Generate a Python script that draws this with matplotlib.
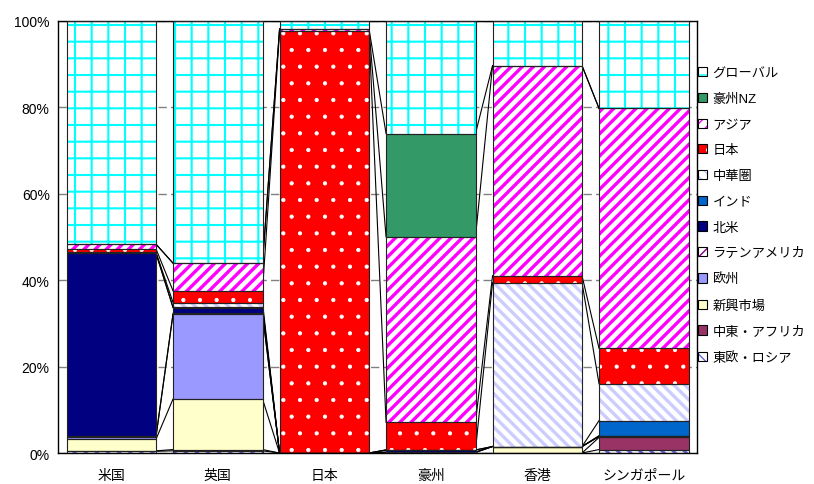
import matplotlib
matplotlib.use("Agg")
import matplotlib.pyplot as plt
import matplotlib.patches as mpatches
from matplotlib.legend_handler import HandlerTuple
from matplotlib.ticker import PercentFormatter
import numpy as np

plt.rcParams['font.family'] = ['Liberation Sans', 'Noto Sans CJK JP', 'DejaVu Sans']

categories = ['米国', '英国', '日本', '豪州', '香港', 'シンガポール']

# series from bottom of the stack to top (percent)
east_europe = [0.4, 0.5, 0.0, 0.0, 0.0, 0.8]
mideast_africa = [0.1, 0.3, 0.0, 0.0, 0.0, 2.8]
emerging = [2.7, 11.7, 0.0, 0.1, 1.5, 0.2]
europe = [0.6, 19.6, 0.0, 0.1, 0.0, 0.1]
latam = [0.1, 0.2, 0.0, 0.0, 0.0, 0.0]
north_america = [42.3, 1.3, 0.0, 0.5, 0.0, 0.1]
india = [0.0, 0.1, 0.0, 0.0, 0.0, 3.5]
greater_china = [0.2, 1.1, 0.0, 0.0, 37.9, 8.5]
japan = [0.8, 2.7, 97.5, 6.4, 1.6, 8.2]
asia = [1.1, 6.4, 0.6, 42.9, 48.6, 55.5]
aus_nz = [0.0, 0.0, 0.0, 23.9, 0.0, 0.0]
global_ = [51.7, 56.1, 1.9, 26.1, 10.4, 20.3]

series_names = ['東欧・ロシア', '中東・アフリカ', '新興市場', '欧州', 'ラテンアメリカ', '北米',
                'インド', '中華圏', '日本', 'アジア', '豪州NZ', 'グローバル']
series_vals = [east_europe, mideast_africa, emerging, europe, latam, north_america,
               india, greater_china, japan, asia, aus_nz, global_]

# (face colour, hatch, hatch colour, hatch linewidth)
styles = [
    ('white', '\\\\\\', '#6666DD', 2.2),
    ('#993366', None, None, 0),
    ('#FFFFCC', None, None, 0),
    ('#9999FF', None, None, 0),
    ('white', '///', '#800080', 2.2),
    ('#000080', None, None, 0),
    ('#0066CC', None, None, 0),
    ('white', '\\\\\\', '#CCCCFF', 2.4),
    ('#FF0000', '.', 'white', 0.6),
    ('white', '///', '#FF00FF', 2.4),
    ('#339966', None, None, 0),
    ('white', '+', '#00FFFF', 1.5),
]


def hatched(fn, hlw, *args, **kw):
    with plt.rc_context({'hatch.linewidth': hlw if hlw else 1.0}):
        res = fn(*args, **kw)
    items = res.patches if hasattr(res, 'patches') else [res]
    for p in items:
        if hasattr(p, 'set_hatch_linewidth') and hlw:
            p.set_hatch_linewidth(hlw)
    return res


fig = plt.figure(figsize=(8.14, 4.85), dpi=100)
ax = fig.add_axes([0.0713, 0.0639, 0.785, 0.8914])

x = np.arange(len(categories))
w = 0.84
bottom = np.zeros(len(categories))
tops = []
for name, vals, (fc, hatch, hc, hlw) in zip(series_names, series_vals, styles):
    vals = np.array(vals)
    if hatch:
        hatched(ax.bar, hlw, x, vals, w, bottom=bottom, color=fc, hatch=hatch,
                edgecolor=hc, linewidth=0, zorder=2)
    else:
        ax.bar(x, vals, w, bottom=bottom, color=fc, linewidth=0, zorder=2)
    ax.bar(x, vals, w, bottom=bottom, fill=False, edgecolor='#222222', linewidth=0.8, zorder=3)
    bottom = bottom + vals
    tops.append(bottom.copy())

# series lines between bars
for cum in tops:
    for i in range(len(categories) - 1):
        ax.plot([x[i] + w / 2, x[i + 1] - w / 2], [cum[i], cum[i + 1]],
                color='black', lw=0.8, zorder=1.5)

ax.set_xlim(-0.5, len(categories) - 0.5)
ax.set_ylim(0, 100)
ax.set_yticks(np.arange(0, 101, 20))
ax.yaxis.set_major_formatter(PercentFormatter(decimals=0))
ax.set_xticks(x)
ax.set_xticklabels(categories)
ax.tick_params(length=0, labelsize=10)
ax.tick_params(axis='x', pad=11)
ax.tick_params(axis='y', pad=6)
ax.yaxis.grid(True, color='#808080', linestyle=(0, (6, 3)), lw=1)
ax.set_axisbelow(True)
for s in ax.spines.values():
    s.set_color('black')
    s.set_linewidth(1)

handles = []
for fc, hatch, hc, hlw in styles[::-1]:
    if hatch:
        p1 = hatched(mpatches.Patch, hlw, facecolor=fc, hatch=hatch, edgecolor=hc, linewidth=0)
    else:
        p1 = mpatches.Patch(facecolor=fc, linewidth=0)
    p2 = mpatches.Patch(fill=False, edgecolor='black', linewidth=0.8)
    handles.append((p1, p2))
fig.legend(handles, series_names[::-1], handler_map={tuple: HandlerTuple(ndivide=1, pad=0)},
           loc='upper left', bbox_to_anchor=(0.843, 0.884), frameon=False,
           handlelength=0.7, handleheight=0.7, handletextpad=0.4,
           labelspacing=1.02, fontsize=9.5)

fig.savefig('out.png', dpi=100)
